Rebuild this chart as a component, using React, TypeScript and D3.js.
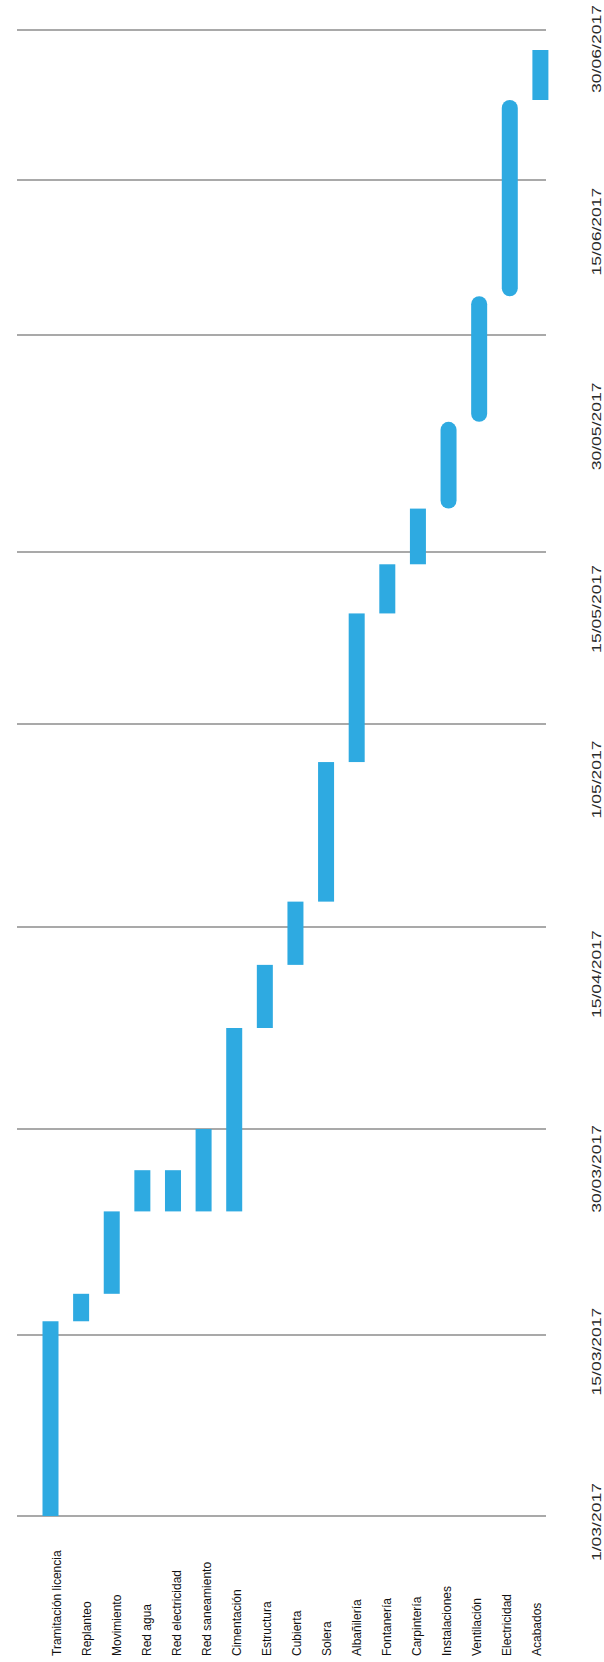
import React from "react";
import * as d3 from "d3";

// Tasks of the construction schedule, in order
const tasks = [
  "Tramitación licencia",
  "Replanteo",
  "Movimiento",
  "Red agua",
  "Red electricidad",
  "Red saneamiento",
  "Cimentación",
  "Estructura",
  "Cubierta",
  "Solera",
  "Albañilería",
  "Fontanería",
  "Carpintería",
  "Instalaciones",
  "Ventilación",
  "Electricidad",
  "Acabados",
];

const startDates = [
  "2017-03-01", "2017-03-16", "2017-03-18", "2017-03-24", "2017-03-24",
  "2017-03-24", "2017-03-24", "2017-04-07", "2017-04-12", "2017-04-17",
  "2017-04-28", "2017-05-10", "2017-05-14", "2017-05-18", "2017-05-24",
  "2017-06-03", "2017-06-23",
];

const endDates = [
  "2017-03-16", "2017-03-18", "2017-03-24", "2017-03-27", "2017-03-27",
  "2017-03-30", "2017-04-07", "2017-04-12", "2017-04-17", "2017-04-28",
  "2017-05-10", "2017-05-14", "2017-05-18", "2017-05-24", "2017-06-03",
  "2017-06-23", "2017-06-28",
];

// Date axis ticks
const tickDates = [
  "2017-03-01", "2017-03-15", "2017-03-30", "2017-04-15", "2017-05-01",
  "2017-05-15", "2017-05-30", "2017-06-15", "2017-06-30",
];

// Bars drawn with fully rounded ends
const roundedTasks = new Set(["Instalaciones", "Ventilación", "Electricidad"]);

const W = 604;
const H = 1662;
const BAR_COLOR = "#2eaae1";
const GRID_COLOR = "#8c8c8c";
const FONT = "'Liberation Sans', Arial, sans-serif";

const parse = d3.timeParse("%Y-%m-%d");
const fmt = d3.timeFormat("%-d/%m/%Y");

// Vertical time axis for the grid and bars, each period has its own spacing
const tickPositions = [1516, 1335, 1129, 927, 724, 552, 335, 180, 30];

export default function App() {
  const ticks = tickDates.map((d) => parse(d) as Date);
  const y = d3.scaleTime().domain(ticks).range(tickPositions);
  // date labels run along an evenly spaced time scale
  const yLabel = d3
    .scaleTime()
    .domain([ticks[0], ticks[ticks.length - 1]])
    .range([1522, 49]);
  const x = d3.scalePoint<string>().domain(tasks).range([50.5, 540.4]);
  const xLabel = d3.scalePoint<string>().domain(tasks).range([56.6, 536.6]);
  const barW = 16;
  const gridX0 = 17;
  const gridX1 = 546;

  const bars = tasks.map((t, i) => {
    const s = parse(startDates[i]) as Date;
    const e = parse(endDates[i]) as Date;
    return { task: t, y0: y(s), y1: y(e) };
  });

  return (
    <svg
      width={W}
      height={H}
      style={{ position: "absolute", left: 0, top: 0, display: "block", background: "#fff" }}
      fontFamily={FONT}
    >
      <g className="grid">
        {ticks.map((t, i) => (
          <line
            key={i}
            x1={gridX0}
            x2={gridX1}
            y1={y(t)}
            y2={y(t)}
            stroke={GRID_COLOR}
            strokeWidth={1.6}
          />
        ))}
      </g>
      <g className="bars">
        {bars.map((b) => {
          const cx = x(b.task) as number;
          const r = roundedTasks.has(b.task) ? barW / 2 : 0;
          return (
            <rect
              key={b.task}
              x={cx - barW / 2}
              y={b.y1}
              width={barW}
              height={b.y0 - b.y1}
              rx={r}
              ry={r}
              fill={BAR_COLOR}
            />
          );
        })}
      </g>
      <g className="task-labels">
        {tasks.map((t) => {
          const cx = (xLabel(t) as number) + 4.5;
          return (
            <text
              key={t}
              transform={`translate(${cx},1656) rotate(-90)`}
              fontSize={12}
              fill="#111"
              textAnchor="start"
            >
              {t}
            </text>
          );
        })}
      </g>
      <g className="date-labels">
        {ticks.map((t, i) => (
          <text
            key={i}
            transform={`translate(601,${yLabel(t)}) rotate(-90) scale(1.35,1)`}
            fontSize={13}
            fill="#2a2a2a"
            textAnchor="middle"
          >
            {fmt(t)}
          </text>
        ))}
      </g>
    </svg>
  );
}
